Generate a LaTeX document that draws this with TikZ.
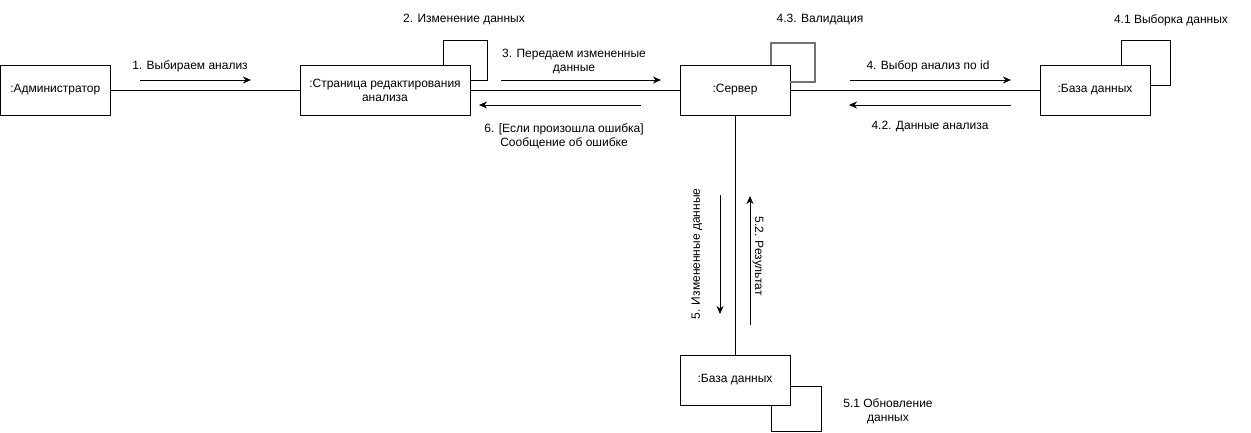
\documentclass[tikz,border=0pt]{standalone}
\usepackage{fontspec}
\setmainfont{Liberation Sans}
\usetikzlibrary{arrows.meta}
\tikzset{
  obj/.style={draw, line width=1pt, minimum width=110pt, minimum height=50pt, inner sep=2pt, align=center, font=\fontsize{12}{14}\selectfont},
  lbl/.style={inner sep=0pt, align=center, font=\fontsize{12}{14}\selectfont},
  link/.style={line width=1pt},
  msg/.style={line width=1pt, -{Stealth[length=8pt,width=7pt,inset=2.5pt]}},
}
\begin{document}
\begin{tikzpicture}[x=1pt,y=-1pt]
\useasboundingbox (0,0) rectangle (1251,432);
% objects
\node[obj, minimum width=109.5pt] (adm) at (55.25,90) {:Администратор};
\node[obj, minimum width=170pt] (page) at (385,90) {:Страница редактирования\\анализа};
\node[obj] (srv) at (735,90) {:Сервер};
\node[obj] (db1) at (1095,90) {:База данных};
\node[obj] (db2) at (735,380) {:База данных};
% links
\draw[link] (adm.east) -- (page.west);
\draw[link] (page.east) -- (srv.west);
\draw[link] (srv.east) -- (db1.west);
\draw[link] (srv.south) -- (db2.north);
% self loops
\coordinate (p1) at (443,65);
\coordinate (p2) at (470,80);
\draw[link] (p1) -- (443,40) -- (487,40) -- (487,80) -- (p2);
\coordinate (s1) at (771,65);
\coordinate (s2) at (790,82);
\draw[link, line width=1.5pt, draw=black!55] (s1) -- (771,43) -- (815,43) -- (815,82) -- (s2);
\coordinate (d1) at (1121,65);
\coordinate (d2) at (1150,85);
\draw[link] (d1) -- (1121,40) -- (1170,40) -- (1170,85) -- (d2);
\coordinate (e1) at (790,386);
\coordinate (e2) at (771,405);
\draw[link] (e1) -- (821,386) -- (821,431) -- (771,431) -- (e2);
% message arrows
\coordinate (m1a) at (140,80); \coordinate (m1b) at (251,80);
\draw[msg] (m1a) -- (m1b);
\coordinate (m3a) at (501,80); \coordinate (m3b) at (661,80);
\draw[msg] (m3a) -- (m3b);
\coordinate (m6a) at (641,105); \coordinate (m6b) at (479,105);
\draw[msg] (m6a) -- (m6b);
\coordinate (m4a) at (850,80); \coordinate (m4b) at (1011,80);
\draw[msg] (m4a) -- (m4b);
\coordinate (m42a) at (1011,105); \coordinate (m42b) at (849,105);
\draw[msg] (m42a) -- (m42b);
\coordinate (m5a) at (720,195); \coordinate (m5b) at (720,314);
\draw[msg] (m5a) -- (m5b);
\coordinate (m52a) at (750,325); \coordinate (m52b) at (750,196);
\draw[msg] (m52a) -- (m52b);
% labels
\node[lbl] (l1) at (190,66) {1. Выбираем анализ};
\node[lbl] (l2) at (464,20) {2. Изменение данных};
\node[lbl] (l3) at (574,61.5) {3. Передаем измененные\\данные};
\node[lbl] (l6) at (564,136) {6. [Если произошла ошибка]\\Сообщение об ошибке};
\node[lbl] (l43) at (820,20) {4.3. Валидация};
\node[lbl] (l4) at (928,66) {4. Выбор анализ по id};
\node[lbl] (l42) at (930,127) {4.2. Данные анализа};
\node[lbl] (l41) at (1171,20) {4.1 Выборка данных};
\node[lbl, rotate=90] (l5) at (697,254) {5. Измененные данные};
\node[lbl, rotate=-90] (l52) at (758,256) {5.2. Результат};
\node[lbl] (l51) at (888,411) {5.1 Обновление\\данных};
\end{tikzpicture}
\end{document}
